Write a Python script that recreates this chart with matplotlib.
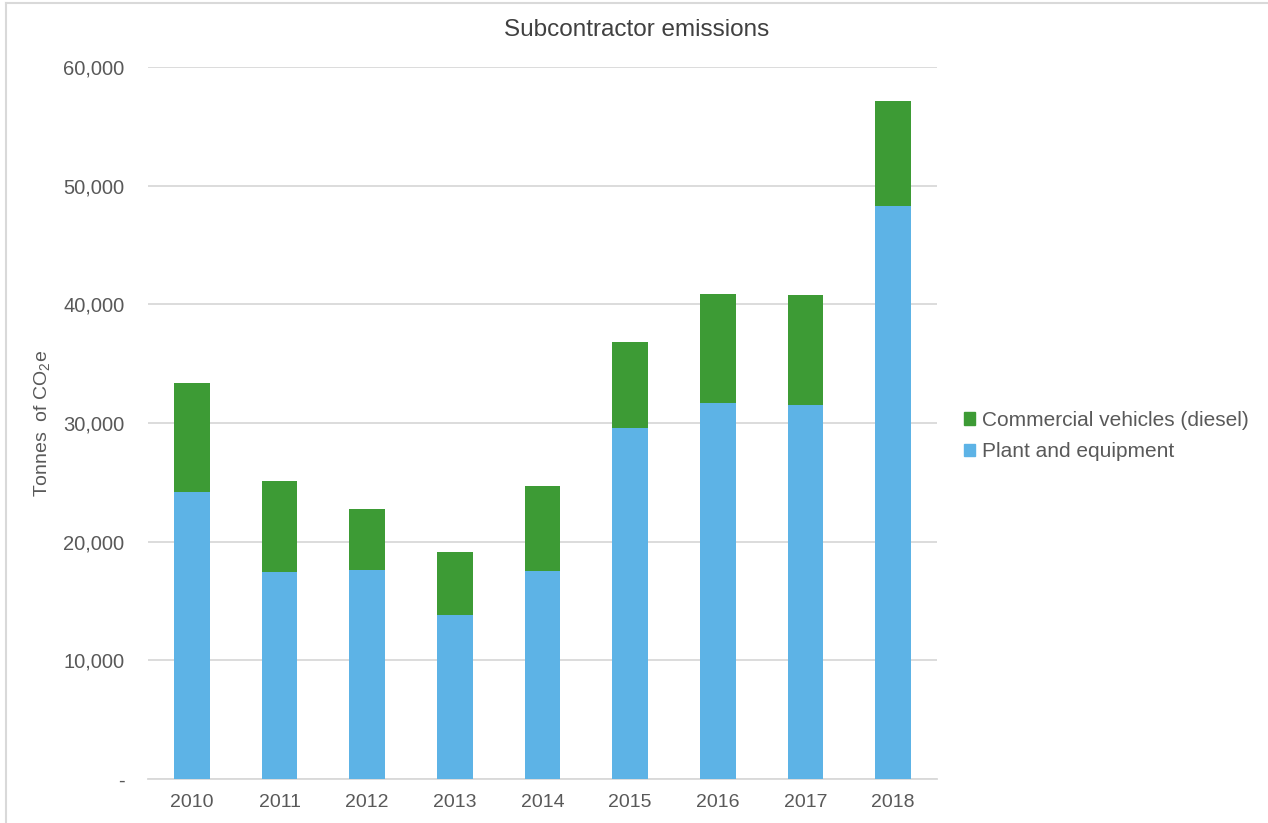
import numpy as np
import matplotlib
matplotlib.use('Agg')
import matplotlib.pyplot as plt
from matplotlib.patches import Patch
from matplotlib.lines import Line2D
from matplotlib.ticker import FuncFormatter

# Daten
years = ['2010', '2011', '2012', '2013', '2014', '2015', '2016', '2017', '2018']
plant = [24190, 17440, 17610, 13820, 17530, 29580, 31690, 31520, 48290]
totals = [33370, 25110, 22750, 19130, 24690, 36830, 40870, 40790, 57130]
vehicles = [t - p for t, p in zip(totals, plant)]

green = '#3D9B35'
blue = '#5DB3E6'
grey_text = '#595959'

plt.rcParams['font.family'] = ['Liberation Sans', 'DejaVu Sans']

fig = plt.figure(figsize=(12.68, 8.23), dpi=100)
ax = fig.add_axes([148 / 1268, 1 - 779 / 823, (937 - 148) / 1268, (779 - 67) / 823])

x = np.arange(len(years))
ax.bar(x, plant, width=0.41, color=blue, zorder=3, label='Plant and equipment')
ax.bar(x, vehicles, width=0.41, bottom=plant, color=green, zorder=3,
       label='Commercial vehicles (diesel)')

ax.set_xlim(-0.5, len(years) - 0.5)
ax.set_ylim(0, 60000)
ax.set_yticks(range(0, 60001, 10000))
ax.yaxis.set_major_formatter(FuncFormatter(lambda v, p: '-' if v == 0 else f'{int(v):,}'))
ax.set_xticks(x)
ax.set_xticklabels(years)

ax.grid(axis='y', color='#D9D9D9', linewidth=1.3, zorder=0)
for s in ['top', 'right', 'left']:
    ax.spines[s].set_visible(False)
ax.spines['bottom'].set_color('#D9D9D9')
ax.spines['bottom'].set_linewidth(1.3)
ax.tick_params(axis='both', length=0, labelsize=14, labelcolor=grey_text)
ax.tick_params(axis='y', labelsize=14.5, pad=17)
ax.tick_params(axis='x', pad=11)

ax.set_ylabel(r'Tonnes  of CO$_\mathregular{2}$e', fontsize=14, color=grey_text, labelpad=7)

fig.text(637 / 1268, 1 - 30 / 823, 'Subcontractor emissions', ha='center', va='center',
         fontsize=17.5, color='#404040')

handles = [Patch(color=green, label='Commercial vehicles (diesel)'),
           Patch(color=blue, label='Plant and equipment')]
fig.legend(handles=handles, loc='center left', bbox_to_anchor=(945 / 1268, 1 - 436 / 823),
           frameon=False, fontsize=15, handlelength=0.55, handleheight=0.55,
           handletextpad=0.35, labelspacing=0.6, labelcolor=grey_text)

# Rahmen links und oben
fig.add_artist(Line2D([6 / 1268, 6 / 1268], [0, 1 - 3 / 823], color='#D9D9D9', linewidth=1.5))
fig.add_artist(Line2D([6 / 1268, 1], [1 - 3 / 823, 1 - 3 / 823], color='#D9D9D9', linewidth=1.5))

fig.savefig('out.png', dpi=100, facecolor='white')
